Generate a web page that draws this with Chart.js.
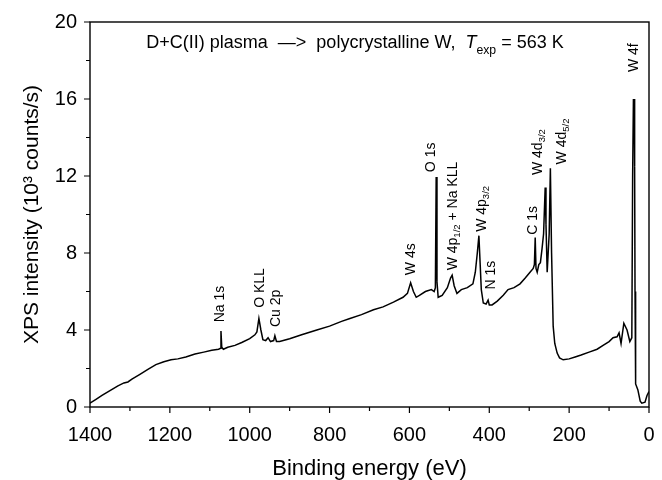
<!DOCTYPE html>
<html>
<head>
<meta charset="utf-8">
<script src="https://cdn.jsdelivr.net/npm/chart.js@4"></script>
<style>
  html, body { margin: 0; padding: 0; background: #fff; }
  #wrap { width: 662px; height: 480px; }
</style>
</head>
<body>
<div id="wrap"><canvas id="xpsChart"></canvas></div>
<script>
// binding energy (eV) and intensity (10^3 counts/s)
const energies = [
  1400, 1385, 1370, 1350, 1330, 1315, 1305, 1295, 1275, 1255, 1235, 1215, 1197, 1180, 1160,
  1137, 1115, 1095, 1078, 1073, 1072, 1070, 1066, 1055, 1037, 1020, 1000, 987, 982, 977,
  972, 967, 960, 954, 948, 940, 937, 933, 925, 900, 870, 832, 800, 770, 749,
  720, 690, 666, 640, 616, 605, 597, 590, 583, 575, 560, 545, 538, 535, 533,
  531, 528, 518, 505, 497, 493, 488, 481, 470, 455, 441, 435, 430, 426, 423,
  420, 415, 408, 403, 400, 393, 380, 365, 353, 338, 323, 310, 298, 290, 287,
  285, 283, 280, 276, 272, 268, 264, 260, 258, 255, 253, 250, 247, 244, 240,
  236, 230, 224, 215, 200, 185, 170, 150, 130, 115, 100, 90, 80, 75, 70,
  63, 55, 48, 43, 41, 39, 38, 37, 36, 35, 34, 33, 28, 22, 18, 10, 5, 0
];
const intensities = [
  0.2, 0.4, 0.6, 0.85, 1.1, 1.25, 1.3, 1.45, 1.7, 1.95, 2.2, 2.35, 2.45, 2.5, 2.6,
  2.75, 2.85, 2.95, 3.0, 3.05, 3.95, 3.1, 3.0, 3.1, 3.2, 3.35, 3.55, 3.75, 3.9, 4.6,
  4.0, 3.5, 3.45, 3.6, 3.4, 3.45, 3.7, 3.4, 3.4, 3.55, 3.75, 4.0, 4.2, 4.45, 4.6,
  4.8, 5.05, 5.2, 5.45, 5.7, 5.9, 6.45, 6.0, 5.7, 5.8, 6.0, 6.1, 6.0, 6.2, 11.95,
  6.5, 5.7, 5.8, 6.2, 6.7, 6.85, 6.3, 5.9, 6.1, 6.2, 6.4, 7.0, 8.0, 8.9, 7.5,
  6.1, 5.4, 5.35, 5.55, 5.3, 5.3, 5.5, 5.8, 6.1, 6.2, 6.4, 6.7, 7.0, 7.2, 7.4,
  8.8, 7.2, 7.0, 7.4, 7.5, 8.2, 9.0, 11.4, 9.5, 7.0, 7.0, 9.0, 12.4, 8.0, 4.2,
  3.3, 2.8, 2.55, 2.45, 2.5, 2.6, 2.7, 2.85, 3.0, 3.2, 3.4, 3.6, 3.65, 3.85, 3.3,
  4.35, 4.0, 3.4, 3.6, 12.0, 16.0, 15.6, 16.0, 12.5, 6.0, 2.0, 1.2, 0.9, 0.3, 0.2, 0.25, 0.6, 0.8
];

const xTicks = [0, 200, 400, 600, 800, 1000, 1200, 1400];
const yTicks = [0, 4, 8, 12, 16, 20];

// peak labels: [energy, intensity at start of text, text pieces]
const peakLabels = [
  [1074, 4.4, [['Na 1s']]],
  [974, 5.15, [['O KLL']]],
  [934, 4.15, [['Cu 2p']]],
  [596, 6.85, [['W 4s']]],
  [546, 12.2, [['O 1s']]],
  [491, 7.1, [['W 4p'], ['1/2', 'sub'], [' + Na KLL']]],
  [418, 9.1, [['W 4p'], ['3/2', 'sub']]],
  [396, 6.1, [['N 1s']]],
  [290, 8.95, [['C 1s']]],
  [278, 12.05, [['W 4d'], ['3/2', 'sub']]],
  [218, 12.6, [['W 4d'], ['5/2', 'sub']]],
  [38, 17.4, [['W 4f']]]
];

const FONT = "'Liberation Sans', Arial, Helvetica, sans-serif";

function drawPieces(ctx, pieces, x, y, size) {
  let cx = x;
  pieces.forEach(p => {
    const sub = p[1] === 'sub';
    const ital = p[1] === 'ital';
    const fs = sub ? size * 0.68 : size;
    ctx.font = (ital ? 'italic ' : '') + fs + 'px ' + FONT;
    ctx.fillText(p[0], cx, sub ? y + size * 0.32 : y);
    cx += ctx.measureText(p[0]).width;
  });
  return cx - x;
}

function piecesWidth(ctx, pieces, size) {
  let w = 0;
  pieces.forEach(p => {
    const fs = p[1] === 'sub' ? size * 0.68 : size;
    ctx.font = (p[1] === 'ital' ? 'italic ' : '') + fs + 'px ' + FONT;
    w += ctx.measureText(p[0]).width;
  });
  return w;
}

const decorations = {
  id: 'decorations',
  afterDraw(chart) {
    const ctx = chart.ctx;
    const a = chart.chartArea;
    const xs = chart.scales.x, ys = chart.scales.y;
    ctx.save();
    ctx.strokeStyle = '#000';
    ctx.fillStyle = '#000';

    // frame
    ctx.lineWidth = 1.4;
    ctx.strokeRect(a.left, a.top, a.right - a.left, a.bottom - a.top);

    // ticks, outward
    ctx.lineWidth = 1.2;
    ctx.beginPath();
    for (let v = 0; v <= 1400; v += 100) {
      const px = xs.getPixelForValue(v);
      const len = v % 200 === 0 ? 6 : 4;
      ctx.moveTo(px, a.bottom);
      ctx.lineTo(px, a.bottom + len);
    }
    for (let v = 0; v <= 20; v += 2) {
      const py = ys.getPixelForValue(v);
      const len = v % 4 === 0 ? 6 : 4;
      ctx.moveTo(a.left, py);
      ctx.lineTo(a.left - len, py);
    }
    ctx.stroke();

    // heading inside plot
    ctx.textBaseline = 'alphabetic';
    ctx.textAlign = 'left';
    const head = [['D+C(II) plasma  —>  polycrystalline W,  '], ['T', 'ital'], ['exp', 'sub'], [' = 563 K']];
    const hs = 18;
    const hw = piecesWidth(ctx, head, hs);
    drawPieces(ctx, head, 355 - hw / 2, 48, hs);

    // peak labels, rotated
    peakLabels.forEach(l => {
      const px = xs.getPixelForValue(l[0]);
      const py = ys.getPixelForValue(l[1]);
      ctx.save();
      ctx.translate(px, py);
      ctx.rotate(-Math.PI / 2);
      ctx.textBaseline = 'middle';
      drawPieces(ctx, l[2], 0, 0, 14);
      ctx.restore();
    });
    ctx.restore();
  }
};

const ctx = document.getElementById('xpsChart').getContext('2d');
new Chart(ctx, {
  type: 'line',
  data: {
    labels: energies,
    datasets: [{
      data: energies.map((e, i) => ({ x: e, y: intensities[i] })),
      borderColor: '#000',
      borderWidth: 1.5,
      pointRadius: 0,
      tension: 0,
      fill: false
    }]
  },
  options: {
    responsive: true,
    maintainAspectRatio: false,
    animation: false,
    layout: { padding: { left: 0, right: 13, top: 22, bottom: 0 } },
    plugins: {
      legend: { display: false },
      tooltip: { enabled: false }
    },
    scales: {
      x: {
        type: 'linear',
        reverse: true,
        min: 0,
        max: 1400,
        afterFit: s => { s.height = 73; s.paddingLeft = 0; s.paddingRight = 0; },
        afterBuildTicks: s => { s.ticks = xTicks.map(v => ({ value: v })); },
        grid: { display: false, drawTicks: false },
        border: { display: false },
        ticks: {
          color: '#000',
          padding: 16,
          maxRotation: 0,
          font: { family: FONT, size: 20 },
          callback: v => String(v)
        },
        title: {
          display: true,
          text: 'Binding energy (eV)',
          color: '#000',
          font: { family: FONT, size: 22, lineHeight: 1 },
          padding: { top: 0, bottom: 0 }
        }
      },
      y: {
        min: 0,
        max: 20,
        afterFit: s => { s.width = 90; s.paddingTop = 0; s.paddingBottom = 0; },
        afterBuildTicks: s => { s.ticks = yTicks.map(v => ({ value: v })); },
        grid: { display: false, drawTicks: false },
        border: { display: false },
        ticks: {
          color: '#000',
          padding: 13,
          font: { family: FONT, size: 20 },
          callback: v => String(v)
        },
        title: {
          display: true,
          text: 'XPS intensity (10³ counts/s)',
          color: '#000',
          font: { family: FONT, size: 21, lineHeight: 1.2 },
          padding: { top: 20, bottom: 0 }
        }
      }
    }
  },
  plugins: [decorations]
});
</script>
</body>
</html>
